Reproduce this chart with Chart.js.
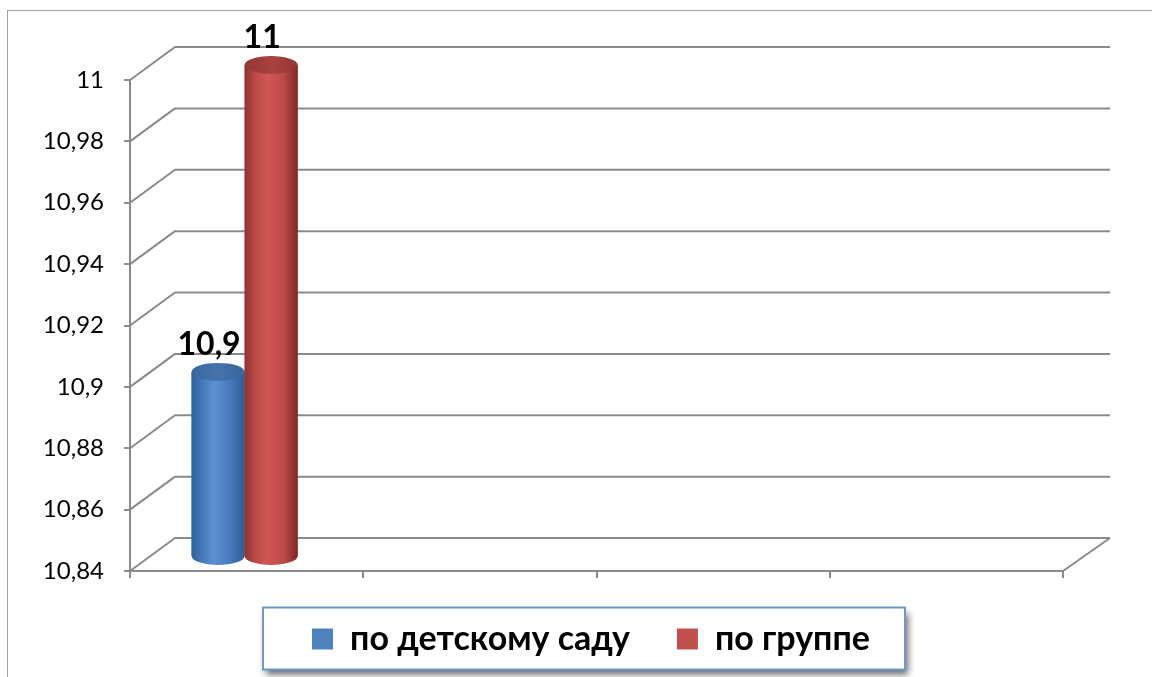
<!DOCTYPE html>
<html>
<head>
<meta charset="utf-8">
<script src="https://cdn.jsdelivr.net/npm/chart.js"></script>
<style>
  html, body { margin: 0; padding: 0; background: #fff; overflow: hidden; }
  #frame { position: absolute; left: 7px; top: 10px; width: 1400px; height: 900px; border: 1px solid #a3a3a3; }
  #wrap { position: absolute; left: 0; top: 0; width: 1152px; height: 677px; }
</style>
</head>
<body>
<div id="frame"></div>
<div id="wrap"><canvas id="barChart"></canvas></div>
<script>
const categories = ['1', '2', '3', '4'];
const seriesNames = ['по детскому саду', 'по группе'];
const kindergartenValues = [10.9, null, null, null];
const groupValues = [11, null, null, null];
const yTicks = [10.84, 10.86, 10.88, 10.9, 10.92, 10.94, 10.96, 10.98, 11];

const gridColor = '#8a8a8a';
const DX = 45, DY = -33;   // depth of the back wall
const SX = -2, SY = -15;   // bars sit a bit inside the box

function fmt(v) {
  return String(parseFloat(Number(v).toFixed(2))).replace('.', ',');
}

const blueStops = [[0, '#30609c'], [0.2, '#4478b8'], [0.42, '#5b90d2'], [0.7, '#4a7dbd'], [1, '#2f5b92']];
const redStops = [[0, '#8f3331'], [0.2, '#b94a47'], [0.42, '#d05653'], [0.72, '#bd4b48'], [1, '#7c2a28']];
const blueTop = [[0, '#3a679f'], [0.5, '#4573ad'], [1, '#3a669c']];
const redTop = [[0, '#923735'], [0.5, '#a84240'], [1, '#943735']];

function grad(ctx, l, r, stops) {
  const g = ctx.createLinearGradient(l, 0, r, 0);
  stops.forEach(s => g.addColorStop(s[0], s[1]));
  return g;
}

function drawCylinder(ctx, el, base, body, top) {
  const l = el.x - el.width / 2, r = el.x + el.width / 2;
  const rx = el.width / 2, ry = 9;
  ctx.fillStyle = grad(ctx, l, r, body);
  ctx.beginPath();
  ctx.moveTo(l, el.y);
  ctx.lineTo(l, base);
  ctx.ellipse(el.x, base, rx, ry, 0, Math.PI, 0, true);
  ctx.lineTo(r, el.y);
  ctx.closePath();
  ctx.fill();
  ctx.fillStyle = grad(ctx, l, r, top);
  ctx.beginPath();
  ctx.ellipse(el.x, el.y, rx, ry, 0, 0, Math.PI * 2);
  ctx.fill();
}

const box3d = {
  id: 'box3d',
  beforeDraw(chart) {
    // frame round the legend
    const lg = chart.legend;
    if (!lg || !lg.legendHitBoxes || !lg.legendHitBoxes.length) return;
    const hb = lg.legendHitBoxes;
    const first = hb[0], last = hb[hb.length - 1];
    const cy = first.top + first.height / 2;
    const x1 = first.left - 49, x2 = last.left + last.width + 35;
    const y1 = cy - 31.5, y2 = cy + 30.5;
    const ctx = chart.ctx;
    ctx.save();
    ctx.shadowColor = 'rgba(0,0,0,0.6)';
    ctx.shadowBlur = 7;
    ctx.shadowOffsetX = 3;
    ctx.shadowOffsetY = 5;
    ctx.fillStyle = '#fff';
    ctx.fillRect(x1, y1, x2 - x1, y2 - y1);
    ctx.restore();
    ctx.save();
    ctx.strokeStyle = '#6d98cf';
    ctx.lineWidth = 2;
    ctx.strokeRect(x1, y1, x2 - x1, y2 - y1);
    ctx.restore();
  },
  beforeDatasetsDraw(chart) {
    const ctx = chart.ctx, y = chart.scales.y, a = chart.chartArea;
    ctx.save();
    ctx.strokeStyle = gridColor;
    ctx.lineWidth = 2;
    ctx.lineJoin = 'round';
    yTicks.forEach(v => {
      const py = y.getPixelForValue(v);
      ctx.beginPath();
      ctx.moveTo(a.left, py);
      ctx.lineTo(a.left + DX, py + DY);
      ctx.lineTo(a.right + DX + 2, py + DY);
      ctx.stroke();
    });
    ctx.beginPath();
    ctx.moveTo(a.right, a.bottom);
    ctx.lineTo(a.right + DX + 2, a.bottom + DY);
    ctx.stroke();
    ctx.restore();
    ctx.save();
    ctx.translate(SX, SY);
  },
  afterDatasetsDraw(chart) {
    const ctx = chart.ctx;
    const floor = chart.scales.y.getPixelForValue(chart.scales.y.min);
    const looks = [[blueStops, blueTop], [redStops, redTop]];
    chart.data.datasets.forEach((ds, i) => {
      chart.getDatasetMeta(i).data.forEach((el, j) => {
        if (ds.data[j] == null) return;
        drawCylinder(ctx, el, Math.min(el.base, floor), looks[i][0], looks[i][1]);
      });
    });
    ctx.restore();
    ctx.save();
    ctx.fillStyle = '#000';
    ctx.font = 'bold 32px Lato, "Liberation Sans", sans-serif';
    ctx.textAlign = 'center';
    ctx.textBaseline = 'alphabetic';
    chart.data.datasets.forEach((ds, i) => {
      chart.getDatasetMeta(i).data.forEach((el, j) => {
        if (ds.data[j] == null) return;
        ctx.fillText(fmt(ds.data[j]), el.x + SX - 9, el.y + SY - 17);
      });
    });
    ctx.restore();
  }
};

new Chart(document.getElementById('barChart'), {
  type: 'bar',
  data: {
    labels: categories,
    datasets: [
      { label: seriesNames[0], data: kindergartenValues, backgroundColor: '#4f81bd', borderWidth: 0 },
      { label: seriesNames[1], data: groupValues, backgroundColor: '#c0504d', borderWidth: 0 }
    ]
  },
  options: {
    responsive: true,
    maintainAspectRatio: false,
    animation: false,
    datasets: { bar: { categoryPercentage: 0.455, barPercentage: 1.0 } },
    layout: { padding: { left: 30, right: 0, top: 80, bottom: 11 } },
    plugins: {
      tooltip: { enabled: false },
      legend: {
        position: 'bottom',
        labels: {
          color: '#000',
          boxWidth: 21,
          boxHeight: 21,
          padding: 47,
          font: { family: 'Lato, "Liberation Sans", sans-serif', size: 34, weight: 'bold' }
        }
      }
    },
    scales: {
      x: {
        offset: true,
        afterFit: s => { s.height = 4; },
        grid: { drawOnChartArea: false, drawTicks: true, tickLength: 7, color: gridColor, lineWidth: 2 },
        border: { color: gridColor, width: 2 },
        ticks: { display: false }
      },
      y: {
        min: 10.84,
        max: 11,
        afterFit: s => { s.width = 100; },
        afterBuildTicks: s => { s.ticks = yTicks.map(v => ({ value: v })); },
        grid: { drawOnChartArea: false, drawTicks: true, tickLength: 6, color: gridColor, lineWidth: 2 },
        border: { color: gridColor, width: 2 },
        ticks: {
          color: '#000',
          padding: 20,
          font: { family: 'Lato, "Liberation Sans", sans-serif', size: 24 },
          callback: v => fmt(v)
        }
      },
      side: {
        position: 'right',
        display: true,
        afterFit: s => { s.width = 89; },
        grid: { display: false },
        border: { display: false },
        ticks: { display: false }
      }
    }
  },
  plugins: [box3d]
});
</script>
</body>
</html>
